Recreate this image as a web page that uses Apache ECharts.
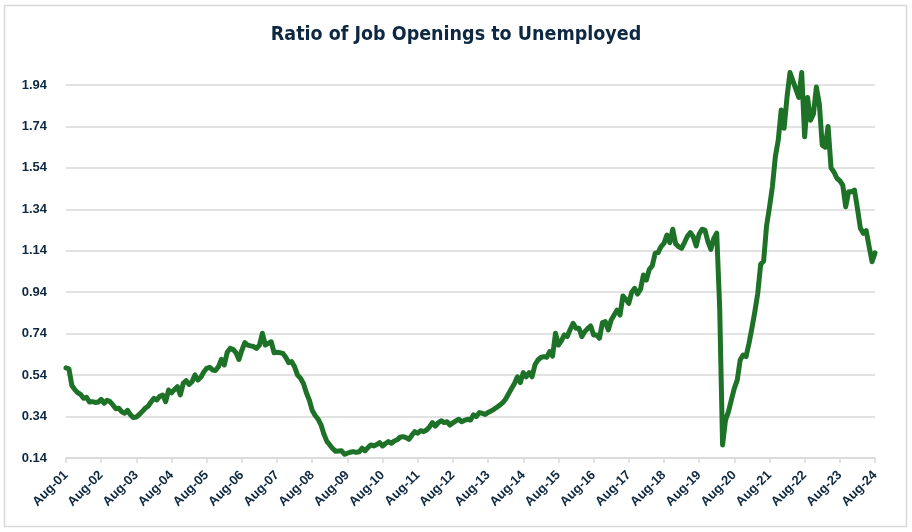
<!DOCTYPE html>
<html>
<head>
<meta charset="utf-8">
<script src="https://cdn.jsdelivr.net/npm/echarts@6/dist/echarts.min.js"></script>
<style>
  html, body { margin: 0; padding: 0; background: #fff; }
  #chart { width: 912px; height: 532px; }
</style>
</head>
<body>
<div id="chart"></div>
<script>
// monthly series, Aug-01 .. Aug-24 (one row = Aug..Jul)
const startYear = 2001
const startMonth = 7 // August (0-based)
const monthNames = ["Jan", "Feb", "Mar", "Apr", "May", "Jun", "Jul", "Aug", "Sep", "Oct", "Nov", "Dec"]

const ratio = [
  0.575, 0.57, 0.49, 0.47, 0.455, 0.447, 0.428, 0.433, 0.41, 0.412, 0.408, 0.41,
  0.423, 0.404, 0.418, 0.412, 0.396, 0.378, 0.38, 0.364, 0.356, 0.37, 0.348, 0.335,
  0.338, 0.35, 0.364, 0.38, 0.39, 0.41, 0.428, 0.42, 0.438, 0.444, 0.412, 0.468,
  0.455, 0.47, 0.484, 0.444, 0.5, 0.513, 0.495, 0.508, 0.541, 0.516, 0.53, 0.555,
  0.573, 0.578, 0.565, 0.562, 0.58, 0.616, 0.589, 0.65, 0.669, 0.664, 0.648, 0.616,
  0.66, 0.697, 0.685, 0.681, 0.678, 0.669, 0.685, 0.742, 0.685, 0.693, 0.701, 0.648,
  0.65, 0.648, 0.645, 0.625, 0.6, 0.605, 0.58, 0.54, 0.525, 0.5, 0.455, 0.42,
  0.37, 0.345, 0.328, 0.3, 0.255, 0.22, 0.203, 0.185, 0.172, 0.174, 0.175, 0.158,
  0.163, 0.168, 0.171, 0.167, 0.17, 0.187, 0.175, 0.19, 0.203, 0.198, 0.205, 0.214,
  0.198, 0.21, 0.219, 0.211, 0.222, 0.228, 0.24, 0.243, 0.238, 0.23, 0.25, 0.267,
  0.26, 0.272, 0.267, 0.275, 0.29, 0.311, 0.294, 0.31, 0.32, 0.311, 0.315, 0.299,
  0.31, 0.319, 0.327, 0.315, 0.322, 0.327, 0.323, 0.348, 0.34, 0.359, 0.356, 0.35,
  0.36, 0.367, 0.375, 0.385, 0.395, 0.407, 0.425, 0.45, 0.475, 0.5, 0.532, 0.504,
  0.552, 0.532, 0.552, 0.532, 0.59, 0.613, 0.625, 0.629, 0.626, 0.653, 0.632, 0.742,
  0.685, 0.705, 0.734, 0.726, 0.76, 0.79, 0.766, 0.766, 0.726, 0.75, 0.765, 0.777,
  0.734, 0.734, 0.718, 0.793, 0.798, 0.758, 0.806, 0.83, 0.854, 0.83, 0.922, 0.906,
  0.886, 0.94, 0.959, 0.931, 0.955, 1.023, 0.999, 1.05, 1.067, 1.128, 1.131, 1.16,
  1.176, 1.216, 1.179, 1.244, 1.173, 1.16, 1.152, 1.18, 1.21, 1.228, 1.208, 1.163,
  1.221, 1.244, 1.24, 1.184, 1.147, 1.2, 1.225, 0.87, 0.203, 0.323, 0.364, 0.42,
  0.476, 0.516, 0.613, 0.637, 0.629, 0.693, 0.766, 0.846, 0.935, 1.075, 1.09, 1.26,
  1.35, 1.45, 1.594, 1.675, 1.82, 1.731, 1.884, 2.0, 1.96, 1.92, 1.88, 2.0,
  1.69, 1.88, 1.77, 1.8, 1.93, 1.85, 1.65, 1.64, 1.74, 1.54, 1.52, 1.49,
  1.478, 1.457, 1.353, 1.425, 1.425, 1.433, 1.345, 1.25, 1.224, 1.237, 1.16, 1.087,
  1.13
]

// y ticks 0.14 .. 1.94 step 0.2
const yMin = 0.14
const yMax = 2.0
const yStep = 0.2

const categories = []
for (let k = 0; k < ratio.length; k++) {
  const m = (startMonth + k) % 12
  const y = startYear + Math.floor((startMonth + k) / 12)
  categories.push(monthNames[m] + "-" + String(y % 100).padStart(2, "0"))
}

const navy = "#0E2841"
const gridGray = "#d9d9d9"

const chart = echarts.init(document.getElementById("chart"))
const option = {
  animation: false,
  title: {
    text: "Ratio of Job Openings to Unemployed",
    left: "center",
    top: 20,
    textStyle: {
      color: navy,
      fontFamily: "Liberation Sans Narrow, DejaVu Sans Condensed, sans-serif",
      fontWeight: "bold",
      fontSize: 19.5
    }
  },
  graphic: [
    {
      type: "rect",
      shape: { x: 4.5, y: 5.5, width: 902, height: 521 },
      style: { fill: null, stroke: gridGray, lineWidth: 1.5 },
      silent: true
    }
  ],
  grid: {
    left: 66,
    right: 37,
    top: 72.6,
    bottom: 74
  },
  xAxis: {
    type: "category",
    data: categories,
    boundaryGap: false,
    axisLine: {
      lineStyle: { color: gridGray, width: 1.5 }
    },
    axisTick: {
      show: true,
      interval: 11,
      length: 5,
      lineStyle: { color: gridGray, width: 1.5 }
    },
    axisLabel: {
      interval: 11,
      rotate: 45,
      margin: 15,
      color: navy,
      fontFamily: "Liberation Sans, Arial, sans-serif",
      fontWeight: "bold",
      fontSize: 13
    },
    splitLine: { show: false }
  },
  yAxis: {
    type: "value",
    min: yMin,
    max: yMax,
    interval: yStep,
    axisLine: { show: false },
    axisTick: { show: false },
    axisLabel: {
      margin: 19,
      color: navy,
      fontFamily: "Liberation Sans, Arial, sans-serif",
      fontWeight: "bold",
      fontSize: 13,
      showMaxLabel: false,
      formatter: (v) => v.toFixed(2)
    },
    splitLine: {
      showMaxLine: false,
      lineStyle: { color: gridGray, width: 1.5 }
    }
  },
  series: [
    {
      type: "line",
      data: ratio,
      showSymbol: false,
      symbol: "none",
      lineStyle: { color: "#1E7228", width: 5, join: "round", cap: "round" },
      z: 3
    }
  ]
}
chart.setOption(option)
</script>
</body>
</html>
